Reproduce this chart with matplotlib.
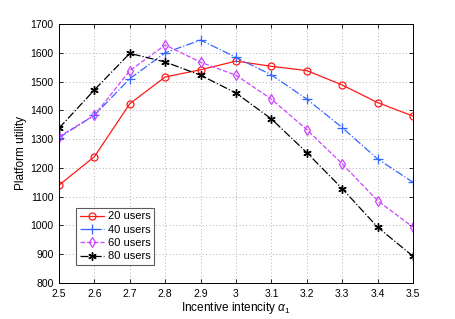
import matplotlib
matplotlib.use("Agg")
import matplotlib.pyplot as plt

# DATA

alpha = [2.5, 2.6, 2.7, 2.8, 2.9, 3.0, 3.1, 3.2, 3.3, 3.4, 3.5]
users_20 = [1140, 1239, 1423, 1516, 1541, 1571, 1553, 1538, 1488, 1427, 1380]
users_40 = [1305, 1383, 1510, 1600, 1644, 1584, 1523, 1439, 1340, 1231, 1150]
users_60 = [1308, 1383, 1538, 1627, 1567, 1522, 1439, 1333, 1214, 1086, 994]
users_80 = [1338, 1471, 1598, 1568, 1522, 1460, 1370, 1253, 1128, 994, 893]
labels = ["20 users", "40 users", "60 users", "80 users"]

x_ticks = [2.5, 2.6, 2.7, 2.8, 2.9, 3.0, 3.1, 3.2, 3.3, 3.4, 3.5]
x_tick_labels = ["2.5", "2.6", "2.7", "2.8", "2.9", "3", "3.1", "3.2", "3.3", "3.4", "3.5"]
y_ticks = [800, 900, 1000, 1100, 1200, 1300, 1400, 1500, 1600, 1700]

# PLOT

plt.rcParams["font.family"] = ["Liberation Sans", "DejaVu Sans"]
plt.rcParams["mathtext.fontset"] = "custom"
plt.rcParams["mathtext.it"] = "Liberation Sans:italic"
plt.rcParams["mathtext.rm"] = "Liberation Sans"

fig = plt.figure(figsize=(4.55, 3.19), dpi=100)
ax = fig.add_axes([0.1297, 0.1129, 0.778, 0.8119])

ax.plot(alpha, users_20, color="#ff1a1a", linestyle="-", linewidth=0.9,
        marker="o", markersize=5, markerfacecolor="none", markeredgewidth=0.9, label=labels[0])
ax.plot(alpha, users_40, color="#3366ff", linestyle="-.", linewidth=0.9,
        marker="+", markersize=7, markeredgewidth=0.9, label=labels[1])
ax.plot(alpha, users_60, color="#cc44ff", linestyle="--", linewidth=0.9,
        marker="d", markersize=5, markerfacecolor="none", markeredgewidth=0.9, label=labels[2])
ax.plot(alpha, users_80, color="black", linestyle="-.", linewidth=0.9,
        marker=(6, 2, 0), markersize=6, markeredgewidth=1.0, label=labels[3])

ax.set_xlim(2.5, 3.5)
ax.set_ylim(800, 1700)
ax.set_xticks(x_ticks)
ax.set_xticklabels(x_tick_labels)
ax.set_yticks(y_ticks)
ax.tick_params(direction="in", labelsize=7.5, length=3, width=0.6, top=True, right=True, pad=4)
ax.grid(True, linestyle=(0, (1, 3)), color="#999999", linewidth=0.6)
for s in ax.spines.values():
    s.set_linewidth(0.7)

ax.set_xlabel(r"Incentive intencity $\alpha_1$", fontsize=8.5, labelpad=1)
ax.set_ylabel("Platform utility", fontsize=8.5, labelpad=2)

leg = ax.legend(loc="lower left", bbox_to_anchor=(0.048, 0.068), fontsize=8, frameon=True,
                fancybox=False, edgecolor="#333333", handlelength=2.2, borderpad=0.35,
                labelspacing=0.3, handletextpad=0.3, borderaxespad=0)
leg.get_frame().set_linewidth(0.8)

fig.savefig("out.png", dpi=100)
